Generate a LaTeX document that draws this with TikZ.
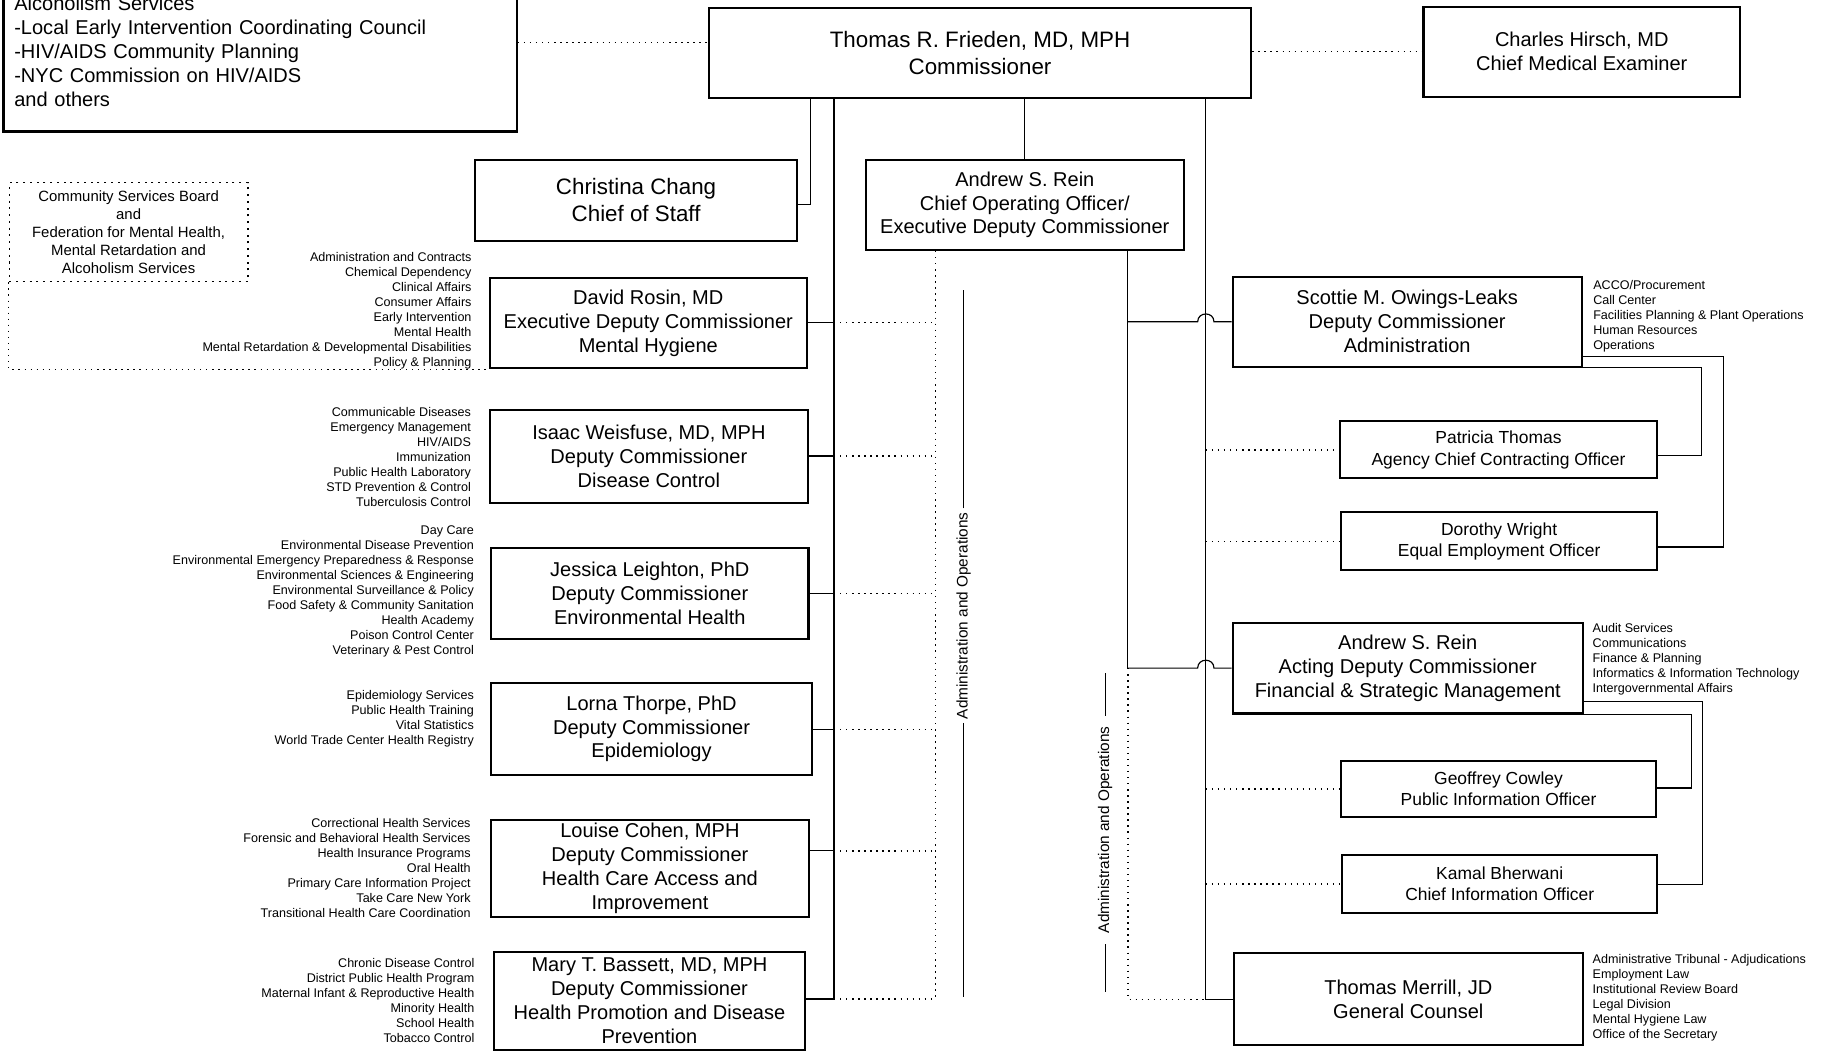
\documentclass[tikz,border=0pt]{standalone}
\usepackage{fontspec}
\setmainfont{Liberation Sans}
\begin{document}
\begin{tikzpicture}[
			x=0.5pt, y=-0.5pt,
			orgbox/.style={draw, line width=0.9pt, inner sep=0pt, align=center,
					font=\fontsize{8.6}{10.3}\selectfont},
			topbox/.style={orgbox, font=\fontsize{9.6}{11.5}\selectfont},
			staffbox/.style={orgbox, font=\fontsize{7.5}{9.2}\selectfont},
			tasklist/.style={inner sep=0pt, font=\fontsize{5.4}{6.45}\selectfont},
			leftlist/.style={tasklist, anchor=east, align=right},
			rightlist/.style={tasklist, anchor=west, align=left},
			solidline/.style={draw, line width=0.5pt},
			dotline/.style={draw, line width=0.6pt, dotted},
			aolabel/.style={rotate=90, inner sep=1.5pt, font=\fontsize{6.6}{8}\selectfont}
		]
		\fill[white] (0,0) rectangle (1568,903);
		\useasboundingbox (0,0) rectangle (1568,903);
		\clip (0,0) rectangle (1568,903);

		\node[orgbox, align=left, text width=211.2pt, inner xsep=4.65pt, minimum height=69pt] (adv) at (223.5,44)
		{Alcoholism Services\\-Local Early Intervention Coordinating Council\\-HIV/AIDS Community Planning\\-NYC Commission on HIV/AIDS\\and others};
		\node[topbox, minimum width=233pt, minimum height=38.5pt] (comm) at (842,45.5) {Thomas R. Frieden, MD, MPH\\Commissioner};
		\node[orgbox, minimum width=136pt, minimum height=38.5pt] (cme) at (1359,44.5) {Charles Hirsch, MD\\Chief Medical Examiner};
		\node[topbox, minimum width=138.5pt, minimum height=34.75pt] (cos) at (546.5,172) {Christina Chang\\Chief of Staff};
		\node[orgbox, minimum width=136.5pt, minimum height=38.75pt] (coo) at (880.5,176) {Andrew S. Rein\\Chief Operating Officer/\\Executive Deputy Commissioner};
		\node[orgbox, dotted, line width=0.6pt, minimum width=102.5pt, minimum height=42.5pt, font=\fontsize{6.4}{7.7}\selectfont] (csb) at (110.5,199.5)
		{Community Services Board\\and\\Federation for Mental Health,\\Mental Retardation and\\Alcoholism Services};

		\node[orgbox, minimum width=136.2pt, minimum height=38.75pt] (mh) at (557,277.7) {David Rosin, MD\\Executive Deputy Commissioner\\Mental Hygiene};
		\node[orgbox, minimum width=136.5pt, minimum height=39.8pt] (dc) at (557.5,392) {Isaac Weisfuse, MD, MPH\\Deputy Commissioner\\Disease Control};
		\node[orgbox, minimum width=136.3pt, minimum height=39.4pt] (eh) at (558.3,510) {Jessica Leighton, PhD\\Deputy Commissioner\\Environmental Health};
		\node[orgbox, minimum width=137.75pt, minimum height=39.75pt] (epi) at (559.8,626.2) {Lorna Thorpe, PhD\\Deputy Commissioner\\Epidemiology};
		\node[orgbox, minimum width=136.35pt, minimum height=41.5pt] (hca) at (558.4,746) {Louise Cohen, MPH\\Deputy Commissioner\\Health Care Access and\\Improvement};
		\node[orgbox, minimum width=133.65pt, minimum height=42.15pt] (hp) at (558,860) {Mary T. Bassett, MD, MPH\\Deputy Commissioner\\Health Promotion and Disease\\Prevention};

		\node[orgbox, minimum width=150pt, minimum height=38.5pt] (adm) at (1209,276.5) {Scottie M. Owings-Leaks\\Deputy Commissioner\\Administration};
		\node[staffbox, minimum width=136.5pt, minimum height=24.5pt] (acco) at (1287.5,386.5) {Patricia Thomas\\Agency Chief Contracting Officer};
		\node[staffbox, minimum width=136pt, minimum height=25pt] (eeo) at (1288,465) {Dorothy Wright\\Equal Employment Officer};
		\node[orgbox, minimum width=150.5pt, minimum height=39pt] (fsm) at (1209.5,574) {Andrew S. Rein\\Acting Deputy Commissioner\\Financial \& Strategic Management};
		\node[staffbox, minimum width=135.5pt, minimum height=24.25pt] (pio) at (1287.5,677.75) {Geoffrey Cowley\\Public Information Officer};
		\node[staffbox, minimum width=135.5pt, minimum height=25pt] (cio) at (1288.5,759.5) {Kamal Bherwani\\Chief Information Officer};
		\node[orgbox, minimum width=150pt, minimum height=39.5pt] (gc) at (1210,858.5) {Thomas Merrill, JD\\General Counsel};

		\node[leftlist] (mhlist) at (405.5,267.3) {Administration and Contracts\\Chemical Dependency\\Clinical Affairs\\Consumer Affairs\\Early Intervention\\Mental Health\\Mental Retardation \& Developmental Disabilities\\Policy \& Planning};
		\node[leftlist] (dclist) at (405,392.4) {Communicable Diseases\\Emergency Management\\HIV/AIDS\\Immunization\\Public Health Laboratory\\STD Prevention \& Control\\Tuberculosis Control};
		\node[leftlist] (ehlist) at (407.5,508.4) {Day Care\\Environmental Disease Prevention\\Environmental Emergency Preparedness \& Response\\Environmental Sciences \& Engineering\\Environmental Surveillance \& Policy\\Food Safety \& Community Sanitation\\Health Academy\\Poison Control Center\\Veterinary \& Pest Control};
		\node[leftlist] (epilist) at (407.5,617.9) {Epidemiology Services\\Public Health Training\\Vital Statistics\\World Trade Center Health Registry};
		\node[leftlist] (hcalist) at (404.7,746) {Correctional Health Services\\Forensic and Behavioral Health Services\\Health Insurance Programs\\Oral Health\\Primary Care Information Project\\Take Care New York\\Transitional Health Care Coordination};
		\node[leftlist] (hplist) at (408,859.8) {Chronic Disease Control\\District Public Health Program\\Maternal Infant \& Reproductive Health\\Minority Health\\School Health\\Tobacco Control};
		\node[rightlist] (admlist) at (1368.5,271.4) {ACCO/Procurement\\Call Center\\Facilities Planning \& Plant Operations\\Human Resources\\Operations};
		\node[rightlist] (fsmlist) at (1368,566.8) {Audit Services\\Communications\\Finance \& Planning\\Informatics \& Information Technology\\Intergovernmental Affairs};
		\node[rightlist] (gclist) at (1368,857.5) {Administrative Tribunal - Adjudications\\Employment Law\\Institutional Review Board\\Legal Division\\Mental Hygiene Law\\Office of the Secretary};

		\node[aolabel] (aoleft) at (828,529) {Administration and Operations};
		\node[aolabel, inner xsep=4.5pt] (aoright) at (949.5,713) {Administration and Operations};

		\coordinate (lsp) at (716.5,858.3);
		\coordinate (dsp) at (803.5,858.3);
		\coordinate (csp) at (969,574);
		\coordinate (rsp) at (1036,858.5);

		\draw[dotline] (adv.east |- 0,36.7) -- (comm.west |- 0,36.7);
		\draw[dotline] (comm.east |- cme.west) -- (cme.west);
		\draw[solidline] (comm.south -| 696,0) |- (cos.east |- 0,176);
		\draw[solidline] (comm.south -| coo.north) -- (coo.north);
		\draw[dotline] (csb.south west) |- (mh.south west);

		\draw[solidline] (comm.south -| lsp) -- (lsp);
		\draw[dotline] (coo.south -| dsp) -- (dsp);
		\foreach \n/\y in {mh/277.2, dc/391.8, eh/509.7, epi/626.6, hca/731, hp/858.3} {
				\draw[solidline] (\n.east |- 0,\y) -- (lsp |- 0,\y);
				\draw[dotline] (lsp |- 0,\y) -- (dsp |- 0,\y);
			}

		\draw[solidline] (coo.south -| csp) -- (csp);
		\draw[dotline] (csp) |- (rsp);
		\draw[solidline] (comm.south -| rsp) -- (rsp) -- (gc.west);
		\foreach \n in {adm, fsm}
		\draw[solidline] (csp |- \n.west) -- (1029,0 |- \n.west)
		.. controls +(0,-9) and +(0,-9) .. (1043,0 |- \n.west) -- (\n.west);
		\foreach \n in {acco, eeo, pio, cio}
		\draw[dotline] (rsp |- \n.west) -- (\n.west);

		\draw[solidline] (adm.east |- 0,306) -- (1481,306) |- (eeo.east |- 0,470);
		\draw[solidline] (adm.south east) -- (1462,0 |- adm.south east) |- (acco.east |- 0,391);
		\draw[solidline] (fsm.east |- 0,603) -- (1463,603) |- (cio.east |- 0,760);
		\draw[solidline] (fsm.south east) -- (1453,0 |- fsm.south east) |- (pio.east |- 0,677);

		\draw[solidline] (aoleft.east) -- (828,249);
		\draw[solidline] (aoleft.west) -- (828,857);
		\draw[solidline] (aoright.east) -- (949.5,578);
		\draw[solidline] (aoright.west) -- (949.5,852);
	\end{tikzpicture}
\end{document}
